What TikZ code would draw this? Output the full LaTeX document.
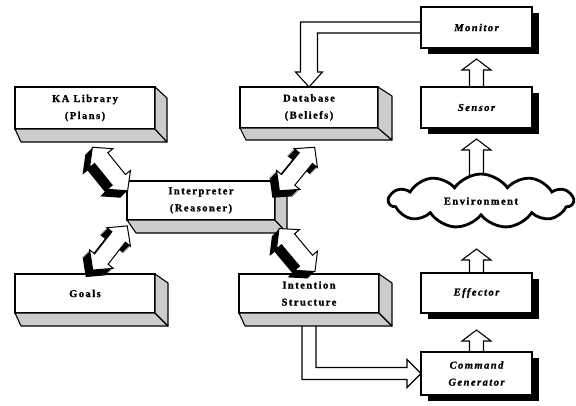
\documentclass[tikz,border=0pt]{standalone}
\usepackage{fontspec}
\setmainfont{Liberation Serif}
\newfontfamily\bxfont[LetterSpace=14, FakeBold=1.2]{Liberation Serif}
\usetikzlibrary{calc,shapes.symbols,shadows,backgrounds}
\tikzset{
  front/.style={draw, fill=white, line width=1.4pt, inner sep=0pt, outer sep=0pt, align=center,
    font=\bxfont\bfseries\fontsize{10.5}{17}\selectfont},
  extr/.style={fill=gray!40, draw=black, line width=1.1pt, line join=round},
  shad/.style={front, font=\bxfont\bfseries\itshape\fontsize{10.5}{17}\selectfont,
    drop shadow={shadow xshift=7pt, shadow yshift=-6pt, fill=black, opacity=1}},
  hollow/.style={draw, fill=white, line width=1.1pt, line join=miter}
}
\newcommand\dblpoly[1]{\path[#1] (-28,0) -- (-14,15) -- (-14,8.5) -- (14,8.5) -- (14,15) -- (28,0)
     -- (14,-15) -- (14,-8.5) -- (-14,-8.5) -- (-14,-15) -- cycle;}
\newcommand\extrude[5]{%
  \filldraw[extr] (#1.south west) -- (#1.south east) -- ($(#1.south east)+(#2,#3)$)
     -- ($(#1.south west)+(#4,#3)$) -- cycle;
  \filldraw[extr] (#1.north east) -- ($(#1.north east)+(#2,#5)$) -- ($(#1.south east)+(#2,#3)$)
     -- (#1.south east) -- cycle;}
\newcommand\uparr[2]{\draw[hollow] ($(#1)+(-7,0)$) -- ($(#2)+(-7,11)$) -- ($(#2)+(-14.5,11)$)
   -- (#2) -- ($(#2)+(14.5,11)$) -- ($(#2)+(7,11)$) -- ($(#1)+(7,0)$);}
\newcommand\dblarrow[2]{%
  \foreach \s in {7,6,5,4,3,2,1}{%
    \begin{scope}[shift={(#1)}, shift={(-\s,\s)}, rotate=#2]
      \dblpoly{fill=black}
    \end{scope}}
  \begin{scope}[shift={(#1)}, rotate=#2]
    \dblpoly{fill=white, draw=black, line width=1pt, line join=miter}
  \end{scope}}
\begin{document}
\begin{tikzpicture}[x=1pt, y=-1pt]
\useasboundingbox (0,0) rectangle (576,405);

% boxes
\node[front, minimum width=140pt, minimum height=42pt] (ka) at (85,108) {KA Library\\(Plans)};
\node[front, minimum width=138pt, minimum height=41pt] (db) at (309,107.5) {Database\\(Beliefs)};
\node[front, minimum width=148pt, minimum height=39pt] (interp) at (201,200.5) {Interpreter\\(Reasoner)};
\node[front, minimum width=140pt, minimum height=39pt] (goals) at (85,293.5) {Goals};
\node[front, minimum width=140pt, minimum height=39pt] (intent) at (309,293.5) {Intention\\Structure};

\extrude{ka}{12}{13}{6}{11}
\extrude{db}{14}{12}{6}{9}
\extrude{interp}{12}{13}{9}{4}
\extrude{goals}{13}{13}{6}{9}
\extrude{intent}{13}{13}{6}{9}

\node[shad, minimum width=111pt, minimum height=41pt] (mon) at (476.5,27.5) {Monitor};
\node[shad, minimum width=111pt, minimum height=41pt] (sen) at (476.5,107.5) {Sensor};
\node[shad, minimum width=111pt, minimum height=40pt] (eff) at (476.5,293) {Effector};
\node[shad, minimum width=111pt, minimum height=43pt] (cmd) at (476.5,373.5) {Command\\Generator};

\node[cloud, draw, fill=white, line width=2.8pt, cloud puffs=11, cloud puff arc=110, aspect=3.5,
      cloud ignores aspect, minimum width=184pt, minimum height=54pt, inner sep=0pt,
      font=\bxfont\bfseries\fontsize{10.5}{17}\selectfont] (env) at (481,201) {Environment};

\begin{scope}[on background layer]
  % Monitor -> Database
  \draw[hollow] ($(mon.west)+(0,-5.5)$) -- ($(db.north |- mon.west)+(-8.5,-5.5)$)
     -- ($(db.north)+(-8.5,-15)$) -- ($(db.north)+(-13.5,-15)$) -- (db.north)
     -- ($(db.north)+(13.5,-15)$) -- ($(db.north)+(8.5,-15)$)
     -- ($(db.north |- mon.west)+(8.5,5.5)$) -- ($(mon.west)+(0,5.5)$);
  % Intention -> Command Generator
  \draw[hollow] ($(intent.south)+(-7,13)$) -- ($(intent.south |- cmd.west)+(-7,6)$)
     -- ($(cmd.west)+(-14,6)$) -- ($(cmd.west)+(-14,14)$) -- (cmd.west)
     -- ($(cmd.west)+(-14,-14)$) -- ($(cmd.west)+(-14,-6)$)
     -- ($(intent.south |- cmd.west)+(7,-6)$) -- ($(intent.south)+(7,13)$);
  % vertical arrows in the right column
  \coordinate (t1) at ($(mon.south)+(0,11)$);
  \uparr{sen.north}{t1}
  \coordinate (b2) at ($(sen.south |- env.north)+(0,4)$);
  \coordinate (t2) at ($(sen.south)+(0,11)$);
  \uparr{b2}{t2}
  \coordinate (t3) at ($(eff.north)+(0,-24)$);
  \uparr{eff.north}{t3}
  \coordinate (t4) at ($(eff.south)+(0,17)$);
  \uparr{cmd.north}{t4}
\end{scope}

% double block arrows between the interpreter and the four stores
\coordinate (a1) at ($(interp.north west)+(-17,-12)$);
\coordinate (a2) at ($(interp.north east)+(22,-12)$);
\coordinate (a3) at ($(interp.south west)+(-17,28)$);
\coordinate (a4) at ($(interp.south east)+(22,30)$);
\dblarrow{a1}{-51}
\dblarrow{a2}{51}
\dblarrow{a3}{52}
\dblarrow{a4}{-50}
\end{tikzpicture}
\end{document}
